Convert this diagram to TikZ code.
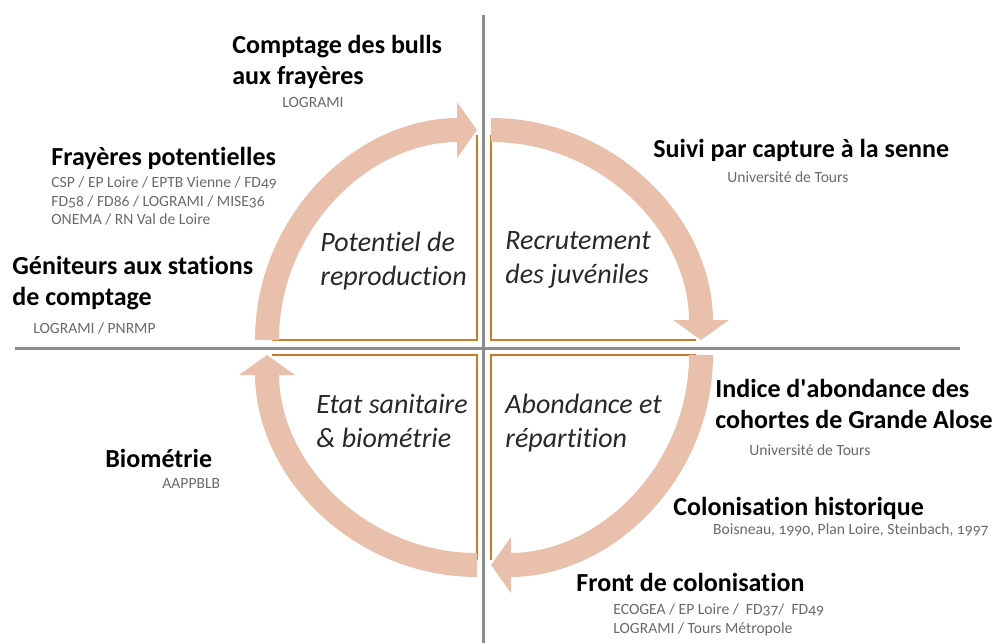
\documentclass[tikz,border=0pt]{standalone}
\usepackage{fontspec}
\setmainfont{Carlito}[Ligatures=NoCommon]
\newfontfamily\srcfont{Carlito}[Numbers=OldStyle,Ligatures=NoCommon]
\usetikzlibrary{arrows.meta}
\definecolor{ringpink}{RGB}{232,192,171}
\definecolor{boxorange}{RGB}{196,124,44}
\definecolor{axisgray}{RGB}{140,140,140}
\definecolor{srcgray}{RGB}{105,105,105}
\definecolor{labgray}{RGB}{40,40,40}
\begin{document}
\begin{tikzpicture}[x=0.5pt,y=0.5pt,
  title/.style={anchor=west,inner sep=0pt,align=left,font=\fontsize{13}{15.5}\selectfont\bfseries},
  source/.style={anchor=west,inner sep=0pt,align=left,text=srcgray,font=\fontsize{7.8}{9.2}\selectfont\srcfont},
  phase/.style={anchor=west,inner sep=0pt,align=left,text=labgray,font=\fontsize{14}{17}\selectfont\itshape},
  quarter/.style={draw=boxorange,line width=1pt},
  ring/.style={draw=ringpink,line width=12pt,-{Triangle[length=10pt,width=27.5pt]}}]
\useasboundingbox (0,0) rectangle (994,-643);
% axes
\coordinate (top) at (483,-15);
\coordinate (bottom) at (483,-643);
\coordinate (left) at (15,-348);
\coordinate (right) at (960,-348);
\draw[axisgray,line width=1.5pt] (top) -- (bottom);
\draw[axisgray,line width=1.5pt] (left) -- (right);
% quadrant corners
\coordinate (nw) at (477,-340);
\coordinate (ne) at (491,-340);
\coordinate (sw) at (477,-355);
\coordinate (se) at (491,-355);
\draw[quarter] (nw) ++(-205,0) -- (nw) -- ++(0,205);
\draw[quarter] (ne) ++(0,205) -- (ne) -- ++(205,0);
\draw[quarter] (sw) ++(-205,0) -- (sw) -- ++(0,-205);
\draw[quarter] (se) ++(0,-205) -- (se) -- ++(205,0);
% cycle arrows
\draw[ring] (nw) ++(-210,0) arc[start angle=180,end angle=90,radius=210];
\draw[ring] (ne) ++(0,210) arc[start angle=90,end angle=0,radius=210];
\draw[ring] (se) ++(210,0) arc[start angle=0,end angle=-90,radius=210];
\draw[ring] (sw) ++(0,-210) arc[start angle=270,end angle=180,radius=210];
% phases
\node[phase] (potentiel) at (320,-261) {Potentiel de\\reproduction};
\node[phase] (recrutement) at (505,-260) {Recrutement\\des juvéniles};
\node[phase] (etat) at (316,-421) {Etat sanitaire\\\& biométrie};
\node[phase] (abondance) at (505,-423) {Abondance et\\répartition};
% suivis
\node[title] (bulls) at (232,-62) {Comptage des bulls\\aux frayères};
\node[source] (bullsrc) at (282,-102) {LOGRAMI};
\node[title] (frayeres) at (51,-158) {Frayères potentielles};
\node[source] (frayeresrc) at (51,-201) {CSP / EP Loire / EPTB Vienne / FD49\\FD58 / FD86 / LOGRAMI / MISE36\\ONEMA / RN Val de Loire};
\node[title] (geniteurs) at (12,-283) {Géniteurs aux stations\\de comptage};
\node[source] (geniteursrc) at (33,-328) {LOGRAMI / PNRMP};
\node[title] (suivi) at (653,-150) {Suivi par capture à la senne};
\node[source] (suivisrc) at (727,-177) {Université de Tours};
\node[title] (indice) at (715,-404) {Indice d\textquotesingle abondance des\\cohortes de Grande Alose};
\node[source] (indicesrc) at (749,-450) {Université de Tours};
\node[title] (biometrie) at (105,-458) {Biométrie};
\node[source] (biometriesrc) at (162,-483) {AAPPBLB};
\node[title] (historique) at (673,-508) {Colonisation historique};
\node[source,anchor=east] (historiquesrc) at (989,-530) {Boisneau, 1990, Plan Loire, Steinbach, 1997};
\node[title] (front) at (576,-582) {Front de colonisation};
\node[source] (frontsrc) at (613,-620) {ECOGEA / EP Loire /~ FD37/~ FD49\\LOGRAMI / Tours Métropole};
\end{tikzpicture}
\end{document}
